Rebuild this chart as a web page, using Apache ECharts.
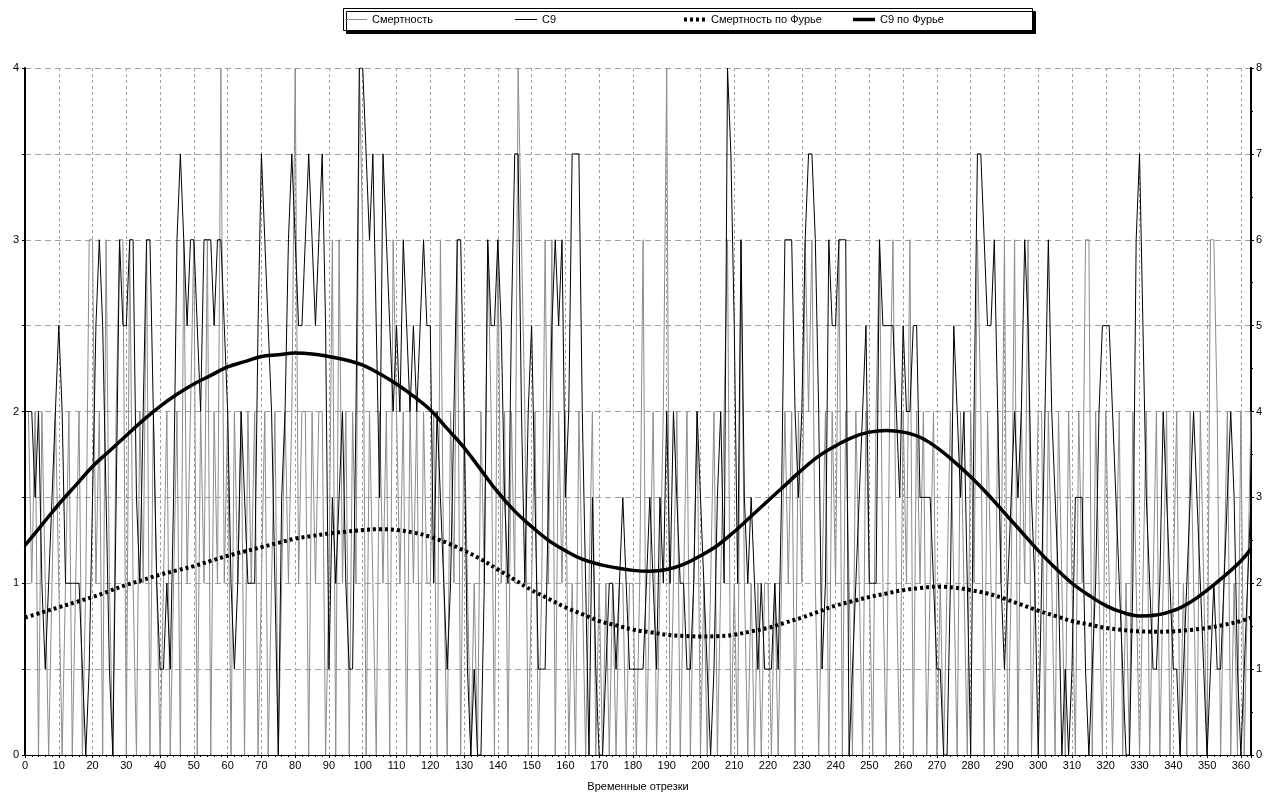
<!DOCTYPE html>
<html>
<head>
<meta charset="utf-8">
<script src="https://cdn.jsdelivr.net/npm/echarts@6/dist/echarts.min.js"></script>
<style>
html,body{margin:0;padding:0;background:#fff;}
#chart{width:1269px;height:797px;}
</style>
</head>
<body>
<div id="chart"></div>
<script>
// Смертность (left axis), one value per time step starting at 0
const deaths = [
2,2,1,2,0,2,1,0,1,2,
1,0,1,2,0,1,2,0,1,3,
3,1,2,0,3,1,0,2,3,3,
0,3,1,0,2,1,3,0,2,1,
0,1,2,0,1,2,0,3,1,2,
3,0,2,1,3,0,2,1,4,1,
2,0,2,1,2,0,2,1,2,0,
1,2,0,1,2,0,1,2,1,2,
4,1,2,2,0,2,1,2,2,0,
1,3,0,3,1,2,0,2,1,4,
3,0,2,1,0,2,1,2,0,3,
2,1,2,0,2,1,2,0,2,1,
1,2,0,3,1,0,2,1,3,0,
2,1,0,1,0,2,1,3,2,0,
3,1,2,0,2,1,4,3,2,0,
1,2,0,1,3,1,3,0,2,1,
2,0,1,0,2,1,0,1,2,0,
1,0,1,0,1,0,1,1,0,1,
1,0,1,3,0,1,2,0,1,2,
4,0,1,2,0,1,2,0,1,2,
0,1,0,1,2,0,1,2,3,0,
1,0,3,1,0,1,0,1,0,1,
1,0,1,0,1,2,1,2,0,2,
1,3,2,3,1,0,1,2,0,2,
1,3,0,2,1,0,2,1,0,2,
1,0,2,3,1,0,2,3,1,0,
2,1,3,0,2,1,2,0,1,2,
0,1,0,1,2,1,0,2,1,0,
2,1,3,2,0,2,1,0,2,1,
3,0,1,3,0,2,1,3,0,1,
2,2,0,2,1,0,2,1,0,2,
1,0,2,1,3,3,0,2,1,0,
2,1,0,1,2,0,1,0,2,1,
0,1,2,0,1,2,0,1,2,0,
1,2,0,1,0,2,1,0,2,1,
0,3,3,2,0,1,2,0,1,0,
2,0,1,2
];
// С9 (right axis)
const c9 = [
4,4,4,3,4,2,1,2,3,4,
5,4,2,2,2,2,2,1,0,1,
3,5,6,5,3,1,0,3,6,5,
5,6,6,3,2,4,6,6,4,2,
1,1,2,1,3,6,7,6,5,6,
6,5,4,6,6,6,5,6,6,5,
4,2,1,2,4,3,2,2,2,5,
7,6,5,4,2,0,3,4,6,7,
6,5,5,6,7,6,5,6,7,5,
1,3,2,3,4,2,1,1,4,8,
8,7,6,7,5,3,7,6,5,4,
5,4,6,5,4,5,4,5,6,5,
5,2,4,3,2,1,2,4,6,6,
4,1,0,1,0,0,2,6,5,5,
6,5,3,2,5,7,7,4,2,4,
5,3,1,1,1,3,5,6,5,6,
3,4,7,7,7,4,2,0,3,1,
0,0,1,2,2,1,2,3,2,1,
1,1,1,1,2,3,2,1,3,2,
4,2,4,3,2,2,1,1,2,4,
3,2,1,0,1,3,4,2,8,7,
5,2,6,3,2,3,2,1,2,1,
1,1,2,1,3,6,6,6,4,3,
4,6,7,7,6,4,1,2,6,5,
5,6,6,6,0,1,2,3,4,5,
2,2,2,6,5,5,5,5,4,3,
5,4,4,5,5,3,3,3,3,2,
1,1,0,0,2,5,4,3,4,2,
0,4,7,7,6,5,5,6,4,2,
1,2,3,4,3,4,6,5,3,2,
0,2,4,6,4,3,2,0,1,0,
1,3,3,3,1,0,1,2,4,5,
5,5,4,3,2,1,0,0,2,6,
7,5,3,2,1,1,2,4,3,2,
1,1,0,1,2,3,4,3,2,1,
0,1,2,1,1,2,3,4,3,1,
0,1,2,3
];
// Fourier curves read at these time steps (left-axis units)
const fourierDays = [0,5,10,15,20,25,30,35,40,45,50,55,60,65,70,75,80,85,90,95,100,105,110,115,120,125,130,135,140,145,150,155,160,165,170,175,180,185,190,195,200,205,210,215,220,225,230,235,240,245,250,255,260,265,270,275,280,285,290,295,300,305,310,315,320,325,330,335,340,345,350,355,360,363];
const deathsFourier = [0.80,0.83,0.86,0.89,0.92,0.955,0.99,1.02,1.05,1.075,1.10,1.13,1.16,1.185,1.21,1.235,1.26,1.275,1.29,1.30,1.31,1.315,1.31,1.295,1.27,1.235,1.19,1.14,1.08,1.02,0.96,0.91,0.86,0.82,0.78,0.755,0.73,0.715,0.70,0.693,0.69,0.692,0.70,0.72,0.74,0.77,0.80,0.835,0.87,0.895,0.92,0.94,0.96,0.972,0.98,0.975,0.96,0.94,0.91,0.875,0.84,0.81,0.78,0.76,0.74,0.728,0.72,0.718,0.72,0.728,0.74,0.758,0.78,0.80];
const c9Fourier = [1.22,1.34,1.46,1.57,1.68,1.77,1.86,1.95,2.03,2.10,2.16,2.21,2.26,2.29,2.32,2.33,2.34,2.335,2.32,2.30,2.27,2.22,2.16,2.09,2.01,1.90,1.79,1.66,1.53,1.42,1.33,1.25,1.19,1.14,1.11,1.09,1.075,1.07,1.08,1.11,1.16,1.22,1.30,1.39,1.48,1.57,1.66,1.74,1.80,1.85,1.88,1.89,1.88,1.85,1.79,1.71,1.62,1.52,1.41,1.30,1.19,1.09,1.00,0.93,0.87,0.83,0.81,0.815,0.84,0.89,0.96,1.04,1.13,1.20];
const xTickStep = 10;
const leftTicks = [0,1,2,3,4];
const rightTicks = [0,1,2,3,4,5,6,7,8];
const names = ['Смертность','С9','Смертность по Фурье','С9 по Фурье'];

const FONT = 'Liberation Sans, Arial, sans-serif';
const chart = echarts.init(document.getElementById('chart'), null, {renderer:'canvas'});
const pairs = arr => arr.map((v,i)=>[i,v]);
const fpairs = arr => arr.map((v,i)=>[fourierDays[i], v]);
const xMax = deaths.length - 1;

const styles = [
  {color:'#8c8c8c', width:1, dash:null},
  {color:'#000', width:1, dash:null},
  {color:'#000', width:4, dash:[3,3]},
  {color:'#000', width:3.5, dash:null}
];
const legendLefts = [345, 515, 684, 853];
const legendGraphics = [{
  type:'rect', left:343, top:8, z:10,
  shape:{width:689, height:22},
  style:{fill:'#fff', stroke:'#000', lineWidth:1, shadowColor:'#000', shadowOffsetX:3, shadowOffsetY:3, shadowBlur:0}
}];
names.forEach((n,i)=>{
  const s = styles[i];
  legendGraphics.push({
    type:'line', z:11, shape:{x1:legendLefts[i], y1:19.5, x2:legendLefts[i]+22, y2:19.5},
    style:{stroke:s.color, lineWidth:s.width, lineDash:s.dash, lineCap:'butt'}
  });
  legendGraphics.push({
    type:'text', z:11, x:legendLefts[i]+27, y:20,
    style:{text:n, font:'11px '+FONT, fill:'#000', textVerticalAlign:'middle', verticalAlign:'middle'}
  });
});

const option = {
  animation:false,
  backgroundColor:'#fff',
  textStyle:{fontFamily:FONT, color:'#000'},
  graphic:legendGraphics,
  grid:{left:25, right:18, top:68, bottom:42, containLabel:false},
  xAxis:{
    type:'value', min:0, max:xMax, interval:xTickStep,
    name:'Временные отрезки', nameLocation:'middle', nameGap:26,
    nameTextStyle:{fontFamily:FONT, fontSize:11, color:'#000'},
    axisLine:{show:true, onZero:false, lineStyle:{color:'#000', width:1}},
    axisTick:{show:true, length:3, lineStyle:{color:'#000'}},
    minorTick:{show:true, splitNumber:5, length:2, lineStyle:{color:'#000'}},
    axisLabel:{fontFamily:FONT, fontSize:11, color:'#000', margin:5, showMaxLabel:false,
      formatter:v=> (v % xTickStep === 0 ? String(v) : '')},
    splitLine:{show:true, lineStyle:{color:'#a0a0a0', type:[3,3], width:1}}
  },
  yAxis:[{
    type:'value', min:0, max:4, interval:0.5, position:'left',
    axisLine:{show:true, lineStyle:{color:'#000', width:2}},
    axisTick:{show:true, length:3, lineStyle:{color:'#000'}},
    axisLabel:{fontFamily:FONT, fontSize:11, color:'#000', margin:6,
      formatter:v=> (leftTicks.indexOf(v) >= 0 ? String(v) : '')},
    splitLine:{show:true, lineStyle:{color:'#a0a0a0', type:[6,4], width:1}}
  },{
    type:'value', min:0, max:8, interval:1, position:'right',
    axisLine:{show:true, lineStyle:{color:'#000', width:2}},
    axisTick:{show:true, length:3, lineStyle:{color:'#000'}},
    minorTick:{show:true, splitNumber:2, length:2, lineStyle:{color:'#000'}},
    axisLabel:{fontFamily:FONT, fontSize:11, color:'#000', margin:5,
      formatter:v=> (rightTicks.indexOf(v) >= 0 ? String(v) : '')},
    splitLine:{show:false}
  }],
  series:[
    {name:names[0], type:'line', yAxisIndex:0, data:pairs(deaths), showSymbol:false, symbol:'none',
     lineStyle:{color:styles[0].color, width:styles[0].width}, itemStyle:{color:styles[0].color}, z:2},
    {name:names[1], type:'line', yAxisIndex:1, data:pairs(c9), showSymbol:false, symbol:'none',
     lineStyle:{color:styles[1].color, width:styles[1].width}, itemStyle:{color:'#000'}, z:3},
    {name:names[2], type:'line', yAxisIndex:0, data:fpairs(deathsFourier), smooth:0.4, showSymbol:false, symbol:'none',
     lineStyle:{color:'#000', width:styles[2].width, type:styles[2].dash, cap:'butt'}, itemStyle:{color:'#000'}, z:4},
    {name:names[3], type:'line', yAxisIndex:0, data:fpairs(c9Fourier), smooth:0.4, showSymbol:false, symbol:'none',
     lineStyle:{color:'#000', width:styles[3].width}, itemStyle:{color:'#000'}, z:5}
  ]
};
chart.setOption(option);
</script>
</body>
</html>
